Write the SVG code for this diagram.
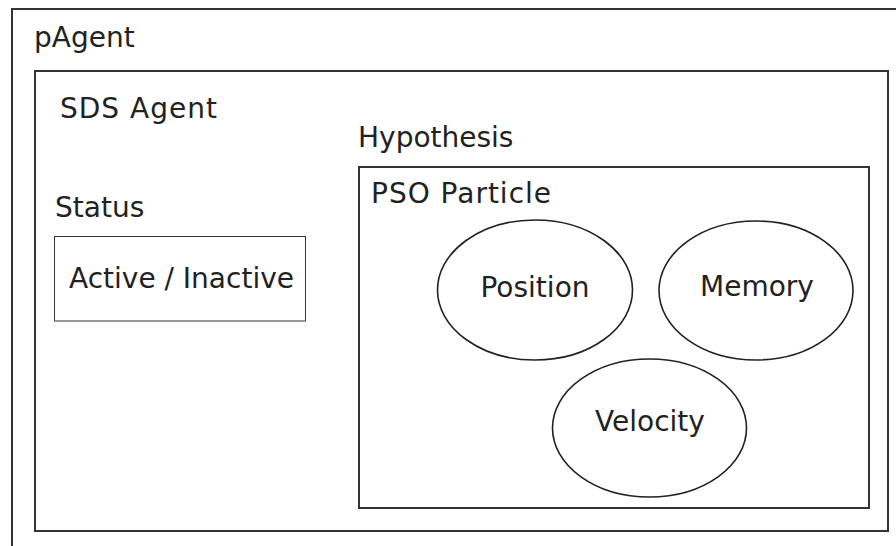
<svg xmlns="http://www.w3.org/2000/svg" width="896" height="546" viewBox="0 0 896 546">
<style>
.frame{fill:none;stroke:#333;stroke-width:2}
.thin{fill:none;stroke:#333;stroke-width:1}
.ell{fill:none;stroke:#222;stroke-width:1.6}
text{font-family:"DejaVu Sans",sans-serif;font-size:28px;fill:#222}
</style>
<rect width="896" height="546" fill="#fff"/>
<g id="pAgent">
<rect class="frame" x="12" y="9" width="900" height="560"/>
<text x="34" y="47">pAgent</text>
</g>
<g id="sdsAgent">
<rect class="frame" x="35" y="71" width="853" height="460"/>
<text x="60" y="118" letter-spacing="1">SDS Agent</text>
</g>
<g id="status">
<text x="55" y="217" font-size="27">Status</text>
<rect class="thin" x="54.5" y="236.5" width="251" height="84.5"/>
<text x="69" y="288">Active / Inactive</text>
</g>
<g id="hypothesis">
<text x="358" y="147">Hypothesis</text>
<rect class="frame" x="359" y="167" width="510" height="341"/>
<text x="371" y="203" letter-spacing="1">PSO Particle</text>
</g>
<g id="position">
<ellipse class="ell" cx="535" cy="290" rx="97.5" ry="70"/>
<text x="535" y="297" text-anchor="middle">Position</text>
</g>
<g id="memory">
<ellipse class="ell" cx="756" cy="290.5" rx="97" ry="69.5"/>
<text x="757" y="296" text-anchor="middle">Memory</text>
</g>
<g id="velocity">
<ellipse class="ell" cx="649.5" cy="428" rx="97" ry="69"/>
<text x="650" y="431" text-anchor="middle">Velocity</text>
</g>
<g id="connectors"></g>
</svg>
